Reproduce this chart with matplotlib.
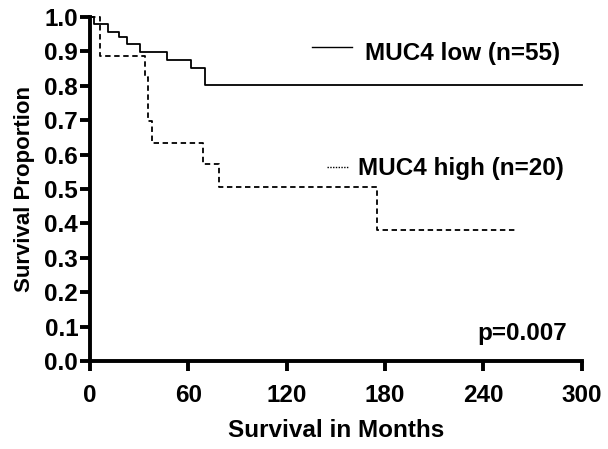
import numpy as np
import matplotlib.pyplot as plt

plt.rcParams['font.family'] = ['Liberation Sans', 'DejaVu Sans']
plt.rcParams['font.weight'] = 'bold'

# Kaplan-Meier steps (months, survival after the drop)
low_t = [0, 2.4, 11, 18, 22.5, 30.5, 47, 61.6, 70, 300]
low_s = [1.0, 0.98, 0.956, 0.942, 0.922, 0.898, 0.875, 0.852, 0.802, 0.802]
high_t = [0, 6, 33.5, 35.4, 37.8, 69, 78.7, 175, 259]
high_s = [1.0, 0.887, 0.825, 0.698, 0.634, 0.573, 0.506, 0.381, 0.381]

xticks = [0, 60, 120, 180, 240, 300]
yticks = np.round(np.arange(0, 1.01, 0.1), 1)

fig = plt.figure(figsize=(6.08, 4.49), dpi=100)
ax = fig.add_axes([0.148, 0.196, 0.809, 0.766])

ax.step(low_t, low_s, where='post', color='black', lw=1.3, clip_on=False)
ax.step(high_t, high_s, where='post', color='black', lw=1.3,
        linestyle=(0, (3, 2)), clip_on=False)

# legend drawn by hand, like the original
ax.plot([135.4, 159.8], [0.913, 0.913], color='black', lw=1.0)
ax.text(167.7, 0.895, 'MUC4 low (n=55)', fontsize=17.5, va='center')
ax.plot([144.5, 157.3], [0.564, 0.564], color='black', lw=1.0, linestyle=(0, (1, 1)))
ax.text(163.4, 0.561, 'MUC4 high (n=20)', fontsize=17.5, va='center')
ax.text(291, 0.061, 'p=0.007', fontsize=17.5, ha='right', va='baseline')

ax.set_xlim(0, 300)
ax.set_ylim(0, 1.0)
ax.set_xticks(xticks)
ax.set_yticks(yticks)
ax.set_yticklabels([f'{v:.1f}' for v in yticks])
ax.tick_params(labelsize=17.5, width=2.8, length=7.5, direction='out')
ax.tick_params(axis='x', pad=9)
ax.tick_params(axis='y', pad=1)
for s in ['top', 'right']:
    ax.spines[s].set_visible(False)
for s in ['left', 'bottom']:
    ax.spines[s].set_linewidth(2.8)

ax.set_xlabel('Survival in Months', fontsize=17.5, fontweight='bold', labelpad=9)
ax.set_ylabel('Survival Proportion', fontsize=16, fontweight='bold', labelpad=7)

fig.savefig('out.png', dpi=100)
